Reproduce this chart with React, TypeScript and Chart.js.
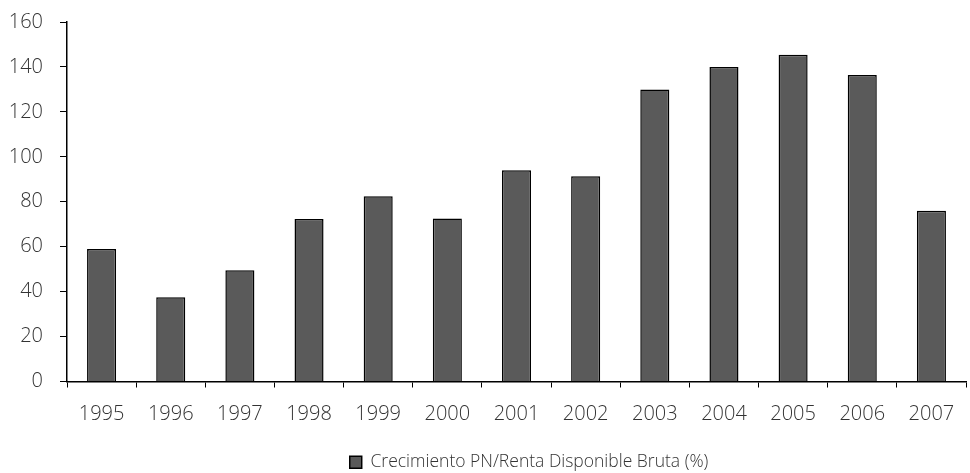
import React, { useEffect, useRef } from "react";
import { Chart, registerables } from "chart.js";

Chart.register(...registerables);

const categories = ["1995", "1996", "1997", "1998", "1999", "2000", "2001", "2002", "2003", "2004", "2005", "2006", "2007"];
const seriesValues = [59, 37.5, 49.5, 72.3, 82.5, 72.6, 94, 91.4, 130, 140, 145.4, 136.4, 76];
const seriesLabel = "Crecimiento PN/Renta Disponible Bruta (%)";
const yTicks = [0, 20, 40, 60, 80, 100, 120, 140, 160];

const FONT = "'Open Sans', 'DejaVu Sans', sans-serif";
const WEIGHT = 300;
const LEGEND_SHIFT = 46;

const legendShift = {
  id: "legendShift",
  afterLayout(chart: any) {
    const lg = chart.legend;
    if (lg) {
      lg.left += LEGEND_SHIFT;
      lg.right += LEGEND_SHIFT;
    }
  },
};

export default function App() {
  const ref = useRef<HTMLCanvasElement | null>(null);

  useEffect(() => {
    document.body.style.margin = "0";
    const canvas = ref.current;
    if (!canvas) return;
    const chart = new Chart(canvas, {
      type: "bar",
      data: {
        labels: categories,
        datasets: [
          {
            label: seriesLabel,
            data: seriesValues,
            backgroundColor: "#5a5a5a",
            borderColor: "#000000",
            borderWidth: 1.5,
            categoryPercentage: 1,
            barPercentage: 0.42,
          },
        ],
      },
      plugins: [legendShift],
      options: {
        responsive: false,
        animation: false,
        maintainAspectRatio: false,
        layout: { padding: { top: 0, right: 4, left: 0, bottom: -8 } },
        plugins: {
          tooltip: { enabled: false },
          legend: {
            position: "bottom",
            labels: {
              boxWidth: 12,
              boxHeight: 12,
              padding: 12,
              color: "#333333",
              font: { family: FONT, size: 17.5, weight: WEIGHT as any },
            },
          },
        },
        scales: {
          x: {
            offset: true,
            grid: {
              display: true,
              drawOnChartArea: false,
              drawTicks: true,
              tickLength: 6,
              color: "#000000",
              offset: true,
            },
            border: { display: true, color: "#000000", width: 1.5 },
            ticks: {
              color: "#333333",
              padding: 15,
              maxRotation: 0,
              autoSkip: false,
              font: { family: FONT, size: 20, weight: WEIGHT as any },
            },
          },
          y: {
            min: 0,
            max: 160,
            afterBuildTicks: (axis: any) => {
              axis.ticks = yTicks.map((v) => ({ value: v }));
            },
            afterFit: (axis: any) => {
              axis.width = 67;
              axis.paddingTop = 22;
            },
            grid: {
              display: true,
              drawOnChartArea: false,
              drawTicks: true,
              tickLength: 7,
              color: "#000000",
            },
            border: { display: true, color: "#000000", width: 1.5 },
            ticks: {
              color: "#333333",
              padding: 17,
              font: { family: FONT, size: 20, weight: WEIGHT as any },
            },
          },
        },
      },
    });
    return () => chart.destroy();
  }, []);

  return (
    <div style={{ width: 970, height: 473 }}>
      <canvas ref={ref} width={970} height={473} style={{ display: "block" }} />
    </div>
  );
}
